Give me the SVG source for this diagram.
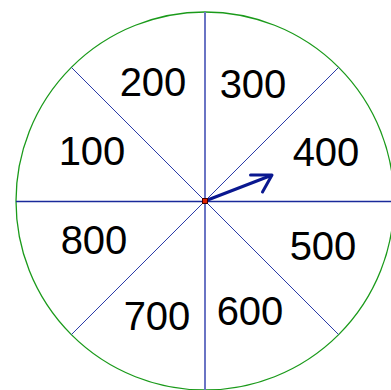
<svg xmlns="http://www.w3.org/2000/svg" width="391" height="390" viewBox="0 0 391 390">
<style>
.lbl{font-family:"Liberation Sans",Arial,sans-serif;font-size:40px;fill:#000;text-anchor:middle}
.diag{stroke:#2a3aa8;stroke-width:1}
</style>
<rect width="391" height="390" fill="#fff"/>
<g id="wheel">
<circle cx="205" cy="201" r="189" fill="none" stroke="#1a9a1a" stroke-width="1.3"/>
</g>
<g id="connectors">
<line class="diag" x1="71.4" y1="67.4" x2="338.6" y2="334.6"/>
<line class="diag" x1="338.6" y1="67.4" x2="71.4" y2="334.6"/>
<line x1="16" y1="201.5" x2="391" y2="201.5" stroke="#1a2a9a" stroke-width="1.5"/>
<line x1="205" y1="12" x2="205" y2="390" stroke="#6a74c4" stroke-width="2"/>
<g id="arrow" fill="none" stroke="#0a1890" stroke-width="3" stroke-linecap="round" stroke-linejoin="round">
<line x1="205" y1="201" x2="271" y2="175.5"/>
<polyline points="250.5,175 272,175 262.5,192"/>
</g>
</g>
<g id="center"><rect x="202.5" y="198.5" width="5" height="5" fill="#e02000" stroke="#400" stroke-width="1"/></g>
<g id="n200"><text class="lbl" x="153" y="96">200</text></g>
<g id="n300"><text class="lbl" x="253" y="98">300</text></g>
<g id="n100"><text class="lbl" x="92" y="165">100</text></g>
<g id="n400"><text class="lbl" x="326" y="166">400</text></g>
<g id="n800"><text class="lbl" x="94" y="254">800</text></g>
<g id="n500"><text class="lbl" x="323" y="260">500</text></g>
<g id="n700"><text class="lbl" x="157" y="330">700</text></g>
<g id="n600"><text class="lbl" x="250" y="325">600</text></g>
</svg>
